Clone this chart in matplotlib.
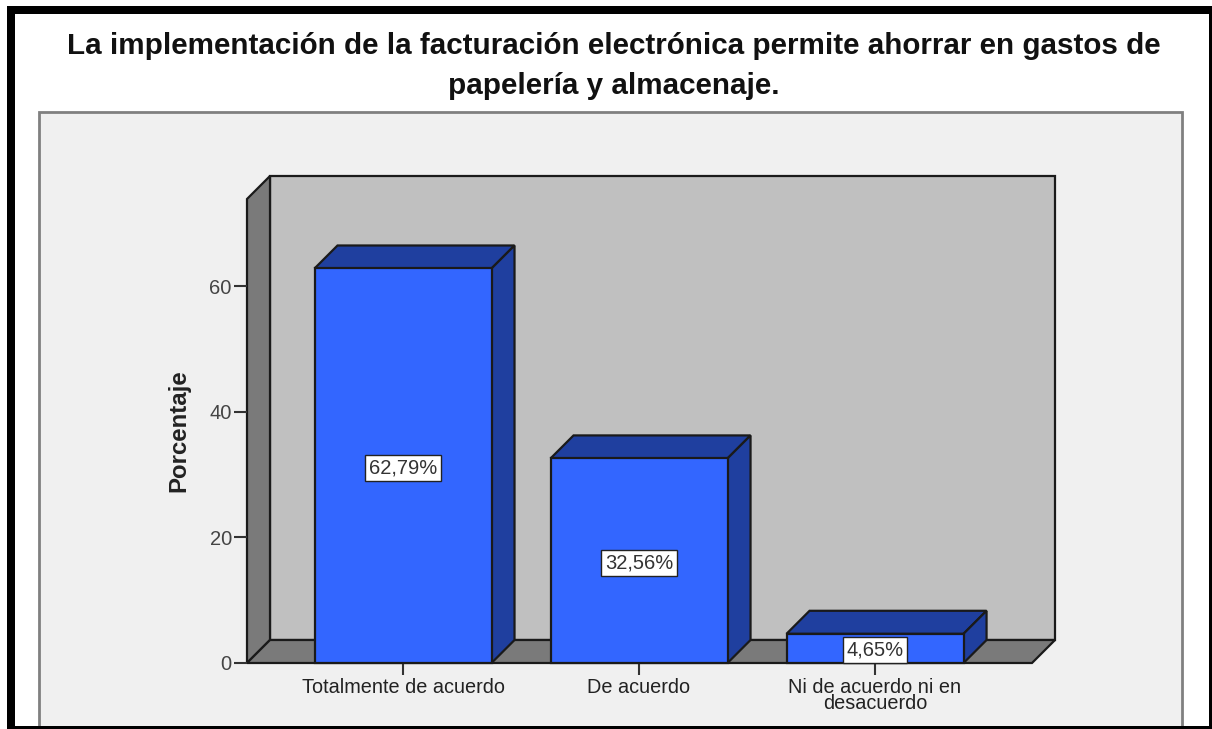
import matplotlib
matplotlib.use('Agg')
import matplotlib.pyplot as plt
from matplotlib.patches import Polygon, Rectangle

categories = ['Totalmente de acuerdo', 'De acuerdo', 'Ni de acuerdo ni en\ndesacuerdo']
values = [62.79, 32.56, 4.65]
value_labels = ['62,79%', '32,56%', '4,65%']
y_ticks = [0, 20, 40, 60]
title = 'La implementación de la facturación electrónica permite ahorrar en gastos de\npapelería y almacenaje.'

W, H = 1212, 729
plt.rcParams['font.family'] = ['Liberation Sans', 'DejaVu Sans']

fig = plt.figure(figsize=(W / 100, H / 100), dpi=100, facecolor='white')


def fx(px):
    return px / W


def fy(py):
    return 1 - py / H


def page_rect(left, top, right, bottom, z, **kw):
    fig.add_artist(Rectangle((fx(left), fy(bottom)), fx(right - left), fy(top) - fy(bottom),
                             transform=fig.transFigure, zorder=z, **kw))


# black frame around the screenshot
page_rect(7, 6, 1212, 729, 0, facecolor='black', edgecolor='none')
page_rect(15, 14, 1209, 726, 0.1, facecolor='white', edgecolor='none')
# chart panel, runs into the bottom of the frame
page_rect(39, 112, 1182, 730, 0.2, facecolor='#f0f0f0', edgecolor='#808080', linewidth=2)
page_rect(7, 726, 1212, 729, 0.3, facecolor='black', edgecolor='none')

fig.text(fx(614), fy(66), title, ha='center', va='center', fontsize=21.3, fontweight='bold',
         color='#111111', linespacing=1.56)

# axes box is the front plane of the 3D chart
ax = fig.add_axes([fx(247), fy(663), fx(1032 - 247), fy(199) - fy(663)], zorder=5)
ax.set_xlim(-0.661, 2.665)
ax.set_ylim(0, 73.85)
ax.patch.set_visible(False)
for s in ax.spines.values():
    s.set_visible(False)

x0, x1 = ax.get_xlim()
y0, y1 = ax.get_ylim()
dx = 23 / 236
dy = 23 / 6.283
bar_w = 0.75
edge = '#1a1a1a'
lw = 1.6


def poly(pts, color, z):
    ax.add_patch(Polygon(pts, closed=True, facecolor=color, edgecolor=edge, linewidth=lw,
                         joinstyle='miter', clip_on=False, zorder=z))


# back wall, side wall, floor
poly([(x0 + dx, y0 + dy), (x1 + dx, y0 + dy), (x1 + dx, y1 + dy), (x0 + dx, y1 + dy)], '#c0c0c0', 1)
poly([(x0, y0), (x0 + dx, y0 + dy), (x0 + dx, y1 + dy), (x0, y1)], '#7a7a7a', 1.1)
poly([(x0, y0), (x1, y0), (x1 + dx, y0 + dy), (x0 + dx, y0 + dy)], '#7a7a7a', 1.2)

for i, v in enumerate(values):
    z = 2 + i
    l, r = i - bar_w / 2, i + bar_w / 2
    ax.bar(i, v, width=bar_w, color='#3366ff', edgecolor=edge, linewidth=lw, zorder=z + 0.2, clip_on=False)
    poly([(l, v), (r, v), (r + dx, v + dy), (l + dx, v + dy)], '#1f3f9f', z)
    poly([(r, 0), (r + dx, dy), (r + dx, v + dy), (r, v)], '#1f3f9f', z + 0.1)
    ax.text(i, v / 2, value_labels[i], ha='center', va='center_baseline', fontsize=14.5, color='#333333', zorder=10,
            bbox=dict(boxstyle='square,pad=0.17', facecolor='white', edgecolor='#222222', linewidth=1))

ax.set_xticks(range(len(categories)))
ax.set_xticklabels(categories, fontsize=14.3, color='#222222', linespacing=0.85)
ax.set_yticks(y_ticks)
ax.tick_params(axis='x', length=8.5, width=1.5, color='#333333', pad=2)
ax.tick_params(axis='y', length=9.4, width=1.5, color='#333333', pad=1.5, labelsize=14.5, labelcolor='#444444')
ax.set_ylabel('Porcentaje', fontsize=17.3, fontweight='bold', color='#222222')
ax.yaxis.set_label_coords((190 - 247) / (1032 - 247), (663 - 431) / (663 - 199))

fig.savefig('out.png', dpi=100)
